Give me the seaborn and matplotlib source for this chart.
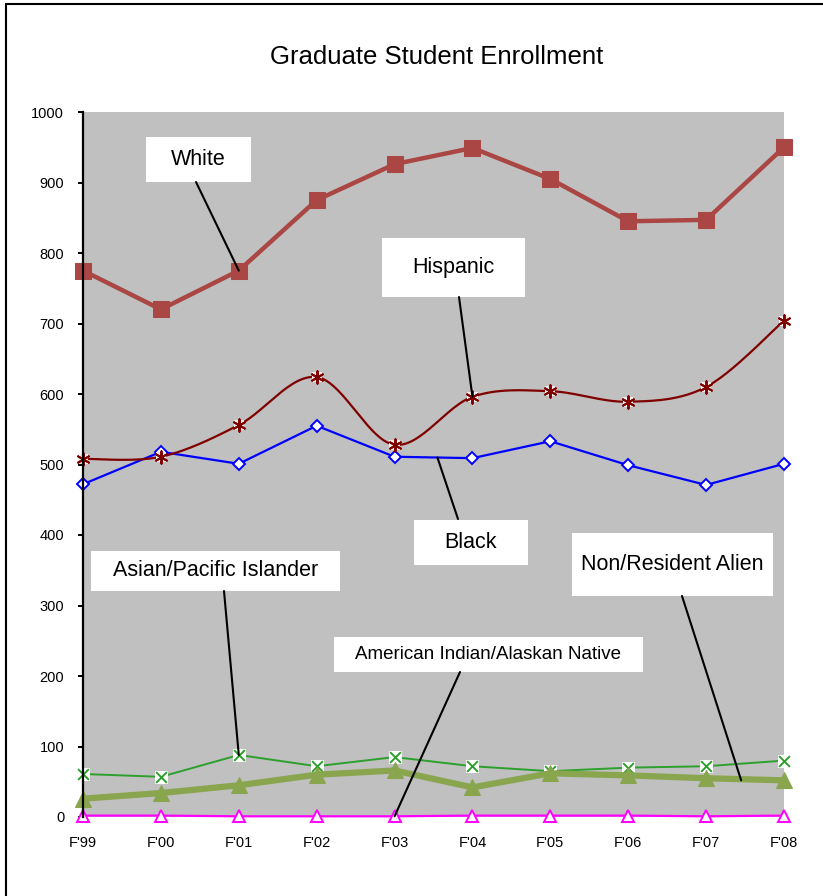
import numpy as np
import pandas as pd
import seaborn as sns
import matplotlib
matplotlib.use("Agg")
import matplotlib.pyplot as plt
from matplotlib.patches import Rectangle

years = ["F'99", "F'00", "F'01", "F'02", "F'03", "F'04", "F'05", "F'06", "F'07", "F'08"]
white = [775, 720, 775, 875, 926, 949, 905, 845, 847, 950]
hispanic = [508, 511, 556, 624, 528, 596, 604, 589, 610, 704]
black = [472, 518, 501, 555, 511, 509, 533, 499, 471, 501]
asian = [61, 57, 88, 72, 85, 72, 65, 70, 72, 80]
nonres = [26, 34, 45, 60, 66, 42, 62, 59, 55, 52]
amindian = [2, 2, 1, 1, 1, 2, 2, 2, 1, 2]

sns.set_style("white")
plt.rcParams['font.family'] = ['Liberation Sans', 'DejaVu Sans']

df = pd.DataFrame({"idx": np.arange(len(years)), "White": white, "Hispanic": hispanic,
                   "Black": black, "Asian": asian, "NonRes": nonres, "AmIndian": amindian})

W, H = 823, 896
fig = plt.figure(figsize=(W / 100, H / 100), dpi=100)
# axes placed in pixel terms
L, R, T, B = 83, 784, 112, 817
ax = fig.add_axes([L / W, 1 - B / H, (R - L) / W, (B - T) / H])
ax.set_facecolor("#C0C0C0")


def axfrac(px, py):
    return ((px - L) / (R - L), (B - py) / (B - T))


# Black
sns.lineplot(data=df, x="idx", y="Black", ax=ax, color="#0000FF", linewidth=1.6,
             marker="D", markersize=6, markerfacecolor="white", markeredgecolor="#0000FF",
             markeredgewidth=1.4, clip_on=False, zorder=3)

# Hispanic: smoothed line (Excel style bezier) + asterisk markers
x = df["idx"].to_numpy(float)
y = df["Hispanic"].to_numpy(float)
xp = np.concatenate([[x[0]], x, [x[-1]]])
yp = np.concatenate([[y[0]], y, [y[-1]]])
t = np.linspace(0, 1, 30)
sx, sy = [], []
for i in range(len(x) - 1):
    p0 = np.array([x[i], y[i]])
    p3 = np.array([x[i + 1], y[i + 1]])
    c1 = p0 + (np.array([xp[i + 2], yp[i + 2]]) - np.array([xp[i], yp[i]])) / 6
    c2 = p3 - (np.array([xp[i + 3], yp[i + 3]]) - np.array([xp[i + 1], yp[i + 1]])) / 6
    pts = ((1 - t) ** 3)[:, None] * p0 + (3 * (1 - t) ** 2 * t)[:, None] * c1 \
        + (3 * (1 - t) * t ** 2)[:, None] * c2 + (t ** 3)[:, None] * p3
    sx.extend(pts[:, 0])
    sy.extend(pts[:, 1])
ax.plot(sx, sy, color="#800000", linewidth=1.6, clip_on=False, zorder=4)
sns.scatterplot(data=df, x="idx", y="Hispanic", ax=ax, marker="s", s=55, color="#F2EDED",
                edgecolor="none", clip_on=False, zorder=4)
sns.scatterplot(data=df, x="idx", y="Hispanic", ax=ax, marker=(6, 2, 0), s=80,
                color="#800000", linewidth=1.4, clip_on=False, zorder=5)

# White
sns.lineplot(data=df, x="idx", y="White", ax=ax, color="#AA4643", linewidth=3.2,
             marker="s", markersize=11, markeredgecolor="#AA4643", clip_on=False, zorder=6)

# Asian/Pacific Islander
sns.lineplot(data=df, x="idx", y="Asian", ax=ax, color="#2CA02C", linewidth=1.4,
             marker="s", markersize=8, markerfacecolor="white", markeredgecolor="white",
             clip_on=False, zorder=6)
sns.scatterplot(data=df, x="idx", y="Asian", ax=ax, marker="x", s=60,
                color="#2CA02C", linewidth=1.4, clip_on=False, zorder=7)

# Non/Resident Alien
sns.lineplot(data=df, x="idx", y="NonRes", ax=ax, color="#89A54E", linewidth=4.5,
             marker="^", markersize=12, markeredgecolor="#89A54E", clip_on=False, zorder=8)

# American Indian/Alaskan Native
sns.lineplot(data=df, x="idx", y="AmIndian", ax=ax, color="#FF00FF", linewidth=1.6,
             marker="^", markersize=8, markerfacecolor="white", markeredgecolor="#FF00FF",
             markeredgewidth=1.4, clip_on=False, zorder=9)

ax.set_xlim(0, len(years) - 1)
ax.set_ylim(0, 1000)
ax.set_yticks(range(0, 1001, 100))
ax.set_xticks(df["idx"])
ax.set_xticklabels(years)
ax.set_xlabel("")
ax.set_ylabel("")
for s in ["top", "right", "bottom"]:
    ax.spines[s].set_visible(False)
ax.spines["left"].set_color("black")
ax.spines["left"].set_linewidth(1.6)
ax.spines["left"].set_zorder(10)
ax.tick_params(axis="y", direction="out", length=3.5, width=1.4, pad=10,
               labelsize=10.5, left=True, colors="black")
ax.tick_params(axis="x", length=0, pad=14, labelsize=10.5, colors="black")

# callouts: box (left, top, right, bottom) in px, text, line start px, target
callouts = [
    ((146, 137, 251, 182), "White", 15.5, (196, 182), (2, white[2])),
    ((382, 238, 525, 297), "Hispanic", 15.5, (459, 297), (5, hispanic[5])),
    ((414, 520, 528, 565), "Black", 15.5, (458, 519), (4.55, 510)),
    ((91, 551, 340, 591), "Asian/Pacific Islander", 15.5, (224, 591), (2, asian[2])),
    ((334, 637, 643, 672), "American Indian/Alaskan Native", 13.5, (460, 672), (4, amindian[4])),
    ((572, 533, 773, 596), "Non/Resident Alien", 15.5, (682, 596), (8.45, 52)),
]
for (l, tp, r, b), label, fs, start, target in callouts:
    x0, y0 = axfrac(l, b)
    x1, y1 = axfrac(r, tp)
    ax.add_patch(Rectangle((x0, y0), x1 - x0, y1 - y0, transform=ax.transAxes,
                           facecolor="white", edgecolor="none", zorder=11, clip_on=False))
    ax.text((x0 + x1) / 2, (y0 + y1) / 2, label, transform=ax.transAxes, ha="center",
            va="center", fontsize=fs, color="black", zorder=12)
    ax.annotate("", xy=target, xycoords="data", xytext=axfrac(*start),
                textcoords="axes fraction",
                arrowprops=dict(arrowstyle="-", color="black", lw=1.5, shrinkA=0, shrinkB=0),
                zorder=12, annotation_clip=False)

fig.text(437 / W, 1 - 57 / H, "Graduate Student Enrollment", ha="center", va="center",
         fontsize=18.5, color="black")
fig.patches.append(Rectangle((6 / W, -0.1), 2, 1 - 4 / H + 0.1, transform=fig.transFigure,
                             fill=False, edgecolor="black", linewidth=1.5))

fig.savefig("out.png", dpi=100)
